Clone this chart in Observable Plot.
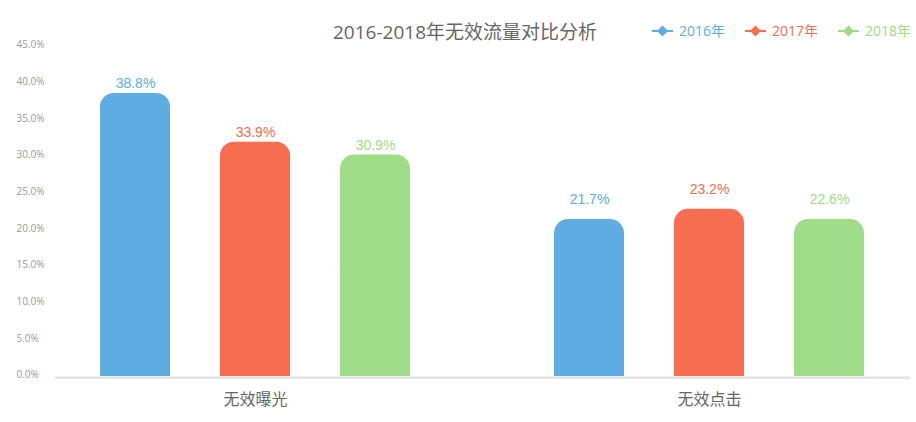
<!DOCTYPE html>
<html>
<head>
<meta charset="utf-8">
<script src="https://cdn.jsdelivr.net/npm/d3@7"></script>
<script src="https://cdn.jsdelivr.net/npm/@observablehq/plot@0.6"></script>
<style>
  html, body { margin: 0; padding: 0; background: #fff; }
  #wrap { width: 916px; position: relative; font-family: 'Open Sans', 'Noto Sans CJK SC', sans-serif; }
  #header { position: relative; height: 40px; }
  #title { position: absolute; left: 465px; top: 21px; transform: translateX(-50%); font-size: 19px; line-height: 22px; color: #666; white-space: nowrap; }
  #legend { position: absolute; left: 652px; top: 22px; width: 300px; display: flex; align-items: center; height: 18px; white-space: nowrap; }
  .item { display: flex; align-items: center; margin-right: 20px; font-size: 14px; line-height: 18px; flex-shrink: 0; white-space: nowrap; }
  .item svg { margin-right: 6px; flex-shrink: 0; }
</style>
</head>
<body>
<div id="wrap">
  <div id="header">
    <div id="title"></div>
    <div id="legend"></div>
  </div>
  <div id="chart"></div>
</div>
<script>
const titleText = "2016-2018年无效流量对比分析";
const categories = ["无效曝光", "无效点击"];
const years = ["2016年", "2017年", "2018年"];
const colors = ["#5dade2", "#f76d4f", "#9edc87"];
// bar heights as drawn (percent)
const series2016 = [38.6, 21.4];
const series2017 = [31.95, 22.8];
const series2018 = [30.2, 21.4];
// value labels as printed
const labels2016 = ["38.8%", "21.7%"];
const labels2017 = ["33.9%", "23.2%"];
const labels2018 = ["30.9%", "22.6%"];
const yTicks = [0, 5, 10, 15, 20, 25, 30, 35, 40, 45];

const seriesValues = [series2016, series2017, series2018];
const seriesLabels = [labels2016, labels2017, labels2018];
const rows = [];
categories.forEach((c, ci) => {
  years.forEach((y, yi) => {
    rows.push({category: c, year: y, value: seriesValues[yi][ci], label: seriesLabels[yi][ci]});
  });
});

document.getElementById("title").textContent = titleText;
const legend = document.getElementById("legend");
years.forEach((y, i) => {
  const it = document.createElement("div");
  it.className = "item";
  it.style.color = colors[i];
  it.innerHTML = `<svg width="21" height="12" viewBox="0 0 21 12"><line x1="0" y1="6" x2="21" y2="6" stroke="${colors[i]}" stroke-width="2"/><path d="M10.5 0.5 L16 6 L10.5 11.5 L5 6 Z" fill="${colors[i]}"/></svg><span>${y}</span>`;
  legend.appendChild(it);
});

const textFont = "'Liberation Sans', Arial, sans-serif";
const chart = Plot.plot({
  width: 916,
  height: 382,
  marginTop: 6,
  marginBottom: 46,
  marginLeft: 55,
  marginRight: 7,
  style: {fontFamily: "'Open Sans', 'Noto Sans CJK SC', sans-serif", background: "white", overflow: "visible"},
  fx: {domain: categories, paddingInner: 0.123, paddingOuter: 0, label: null},
  x: {domain: years, paddingInner: 0.42, paddingOuter: 0.358, axis: null},
  y: {domain: [0, 45], axis: null},
  color: {domain: years, range: colors},
  marks: [
    Plot.axisY({ticks: yTicks, tickFormat: d => d.toFixed(1) + "%", tickSize: 0, tickPadding: 3,
      textAnchor: "start", dx: -37, dy: -1.5, fontSize: 10, fill: "#999", label: null}),
    Plot.axisFx({anchor: "bottom", tickSize: 0, tickPadding: 17.5, fontSize: 16, fill: "#666", label: null,
      fontFamily: "'Noto Sans CJK SC', sans-serif"}),
    Plot.barY(rows, {fx: "category", x: "year", y: "value", fill: "year", rx: 14}),
    Plot.barY(rows, {fx: "category", x: "year", y1: 0, y2: d => d.value / 2, fill: "year"}),
    Plot.frame({anchor: "bottom", facet: "super", stroke: "#e2e2e2", strokeWidth: 2.5, dy: 1.25}),
    Plot.text(rows.filter(d => d.category === categories[0]), {fx: "category", x: "year", y: "value", text: "label",
      fill: "year", dy: -10, fontSize: 14, fontFamily: textFont}),
    Plot.text(rows.filter(d => d.category === categories[1]), {fx: "category", x: "year", y: "value", text: "label",
      fill: "year", dy: -20, fontSize: 14, fontFamily: textFont})
  ]
});
document.getElementById("chart").appendChild(chart);
</script>
</body>
</html>
